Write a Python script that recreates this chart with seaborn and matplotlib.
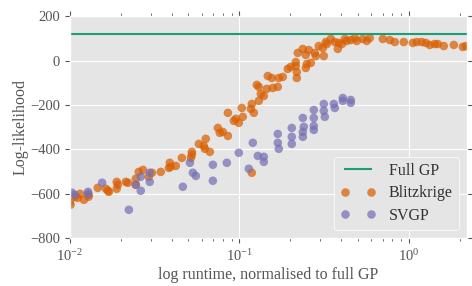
import numpy as np
import matplotlib
matplotlib.use("Agg")
import matplotlib.pyplot as plt
import pandas as pd
import seaborn as sns

# values
full_gp = 122

blitz_time = [0.0100, 0.0101, 0.0107, 0.0111, 0.0115, 0.0121, 0.0129, 0.0129, 0.0146, 0.0163,
              0.0168, 0.0170, 0.0189, 0.0192, 0.0189, 0.0214, 0.0220, 0.0245, 0.0245, 0.0255,
              0.0270, 0.0292, 0.0305, 0.0344, 0.0384, 0.0389, 0.0394, 0.0422, 0.0458, 0.0518,
              0.0525, 0.0525, 0.0577, 0.0617, 0.0626, 0.0634, 0.0670, 0.0747, 0.0767, 0.0799,
              0.0856, 0.0856, 0.0928, 0.0954, 0.0993, 0.1034, 0.1048, 0.1169, 0.1185, 0.1218,
              0.1303, 0.1339, 0.1395, 0.1268, 0.1303, 0.1453, 0.1473, 0.1576, 0.1555, 0.1687,
              0.1710, 0.1805, 0.1932, 0.2013, 0.2154, 0.2154, 0.2184, 0.2184, 0.2468, 0.2502,
              0.2641, 0.2213, 0.2370, 0.2468, 0.2570, 0.2788, 0.2827, 0.2944, 0.3109, 0.3151,
              0.3238, 0.3282, 0.3466, 0.3659, 0.3812, 0.3864, 0.4025, 0.4192, 0.4308, 0.4548,
              0.4802, 0.4934, 0.5354, 0.5653, 0.5888, 0.7024, 0.7725, 0.8268, 0.9343, 1.056,
              1.115, 1.193, 1.260, 1.330, 1.423, 1.483, 1.609, 1.843, 2.083, 2.170, 0.1185]
blitz_ll = [-636, -649, -613, -618, -600, -627, -604, -613, -573, -577,
            -586, -591, -546, -559, -577, -546, -550, -532, -559, -501,
            -492, -523, -505, -501, -483, -460, -478, -474, -438, -438,
            -411, -424, -375, -384, -397, -352, -411, -303, -325, -321,
            -339, -235, -271, -262, -280, -213, -253, -217, -195, -235,
            -181, -150, -159, -109, -118, -127, -69, -123, -78, -118,
            -78, -73, -37, -28, -6, -24, -51, -78, -33, -15,
            -10, 35, 53, 26, 48, 35, 21, 66, 57, 21,
            84, 75, 98, 84, 53, 80, 75, 98, 89, 93,
            102, 89, 98, 89, 102, 98, 93, 84, 84, 80,
            84, 84, 80, 71, 75, 75, 66, 71, 62, 66, -505]

svgp_time = [0.0103, 0.0107, 0.0128, 0.0128, 0.0155, 0.0223, 0.0245, 0.0262, 0.0262, 0.0296,
             0.0296, 0.0464, 0.0511, 0.0532, 0.0554, 0.0698, 0.0698, 0.0844, 0.0993, 0.1138,
             0.1201, 0.1286, 0.1395, 0.1395, 0.1687, 0.1687, 0.1710, 0.2040, 0.2040, 0.2040,
             0.2370, 0.2402, 0.2370, 0.2370, 0.2751, 0.2751, 0.2751, 0.2751, 0.3151, 0.3151,
             0.3194, 0.3610, 0.3659, 0.4080, 0.4080, 0.4548, 0.4548]
svgp_ll = [-595, -604, -591, -600, -550, -672, -559, -523, -586, -505,
           -546, -568, -460, -505, -519, -469, -541, -460, -415, -487,
           -370, -429, -433, -456, -330, -370, -397, -303, -343, -375,
           -258, -298, -321, -343, -222, -258, -294, -312, -195, -226,
           -253, -195, -213, -168, -181, -177, -190]

df = pd.DataFrame({
    'time': blitz_time + svgp_time,
    'll': blitz_ll + svgp_ll,
    'method': ['Blitzkrige'] * len(blitz_time) + ['SVGP'] * len(svgp_time),
})

plt.style.use('ggplot')
plt.rcParams['font.family'] = ['Liberation Serif', 'DejaVu Serif']
plt.rcParams['mathtext.fontset'] = 'stix'

fig = plt.figure(figsize=(4.72, 2.86), dpi=100)
ax = fig.add_axes([0.148, 0.167, 0.841, 0.776])

ax.axhline(full_gp, color='#1b9e77', lw=1.5, label='Full GP')
sns.scatterplot(x='time', y='ll', hue='method', data=df, ax=ax,
                palette={'Blitzkrige': '#d95f02', 'SVGP': '#7570b3'},
                s=38, alpha=0.72, edgecolor='none', linewidth=0)

ax.set_xscale('log')
ax.set_xlim(0.01, 2.2)
ax.set_ylim(-800, 200)
ax.set_yticks([-800, -600, -400, -200, 0, 200])
ax.set_xlabel('log runtime, normalised to full GP', fontsize=11.5, color='#555555', labelpad=2)
ax.set_ylabel('Log-likelihood', fontsize=11.5, color='#555555', labelpad=1)
ax.tick_params(which='both', top=True, right=True, labelsize=10.5, colors='#555555')
ax.grid(which='minor', visible=False)

leg = ax.legend(loc='lower right', numpoints=2, scatterpoints=2, fontsize=11.5,
                facecolor='#E5E5E5', edgecolor='white', framealpha=1,
                borderaxespad=0.5, handletextpad=0.8, handlelength=2.2,
                labelspacing=0.4)
for t in leg.get_texts():
    t.set_color('#333333')

fig.savefig('out.png', dpi=100)
